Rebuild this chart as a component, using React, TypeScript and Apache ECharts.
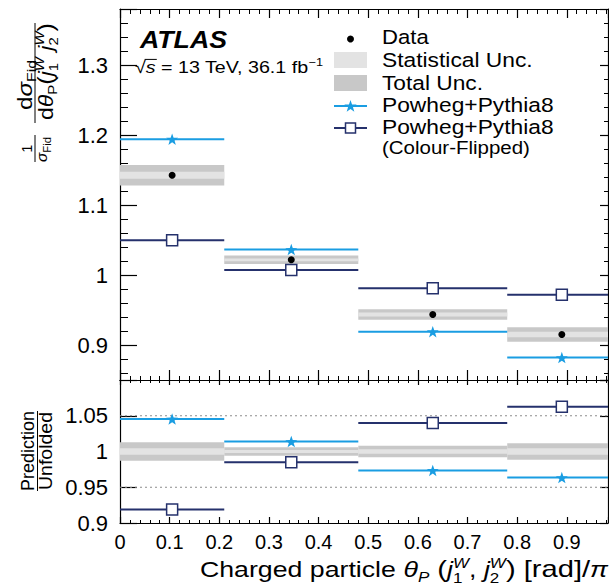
import React, { useEffect, useRef } from 'react';
import * as echarts from 'echarts';

// ---- data ----
const binEdges = [0, 0.21, 0.48, 0.78, 1.0];
const dataValues = [1.1426, 1.0217, 0.9436, 0.915];
const statUnc = [0.005, 0.002, 0.003, 0.004];
const totalUnc = [0.0147, 0.006, 0.0076, 0.0105];
const powhegValues = [1.194, 1.0364, 0.919, 0.882];
const flippedValues = [1.0497, 1.007, 0.981, 0.9717];
const ratioStat = [0.0044, 0.002, 0.003, 0.0044];
const ratioTotal = [0.013, 0.0058, 0.0082, 0.0115];
const ratioPowheg = [1.0454, 1.0139, 0.9736, 0.9635];
const ratioFlipped = [0.919, 0.985, 1.0398, 1.0625];
const ratioRefLines = [0.95, 1.05];

const X_MIN = 0;
const X_MAX = 0.983;
const TOP_Y = [0.85, 1.38];
const RATIO_Y = [0.9, 1.1];

const FONT = "'Liberation Sans', Arial, Helvetica, sans-serif";
const CYAN = '#1a9de2';
const NAVY = '#25316c';
const STAT_GRAY = '#e3e3e3';
const TOTAL_GRAY = '#c8c8c8';

const nBins = dataValues.length;
const centers = Array.from({ length: nBins }, (_, i) => (binEdges[i] + binEdges[i + 1]) / 2);

const bandData = (center: number[], half: number[]) =>
  center.map((c, i) => [binEdges[i], binEdges[i + 1], c - half[i], c + half[i]]);
const segData = (vals: number[]) => vals.map((v, i) => [binEdges[i], binEdges[i + 1], v]);

const STAR = 'path://M0,-10 L2.35,-3.24 L9.51,-3.09 L3.8,1.24 L5.88,8.09 L0,4 L-5.88,8.09 L-3.8,1.24 L-9.51,-3.09 L-2.35,-3.24 Z';

// ---- text layout helpers ----
type Tok = { t: string; s: number; it?: boolean; b?: boolean; r?: number; st?: boolean; over?: boolean };
let _ctx: CanvasRenderingContext2D | null = null;
function measure(t: string, size: number, italic?: boolean, bold?: boolean) {
  if (!_ctx) _ctx = document.createElement('canvas').getContext('2d');
  _ctx!.font = `${italic ? 'italic ' : ''}${bold ? 'bold ' : ''}${size}px ${FONT}`;
  return _ctx!.measureText(t).width;
}
function mathGroup(tokens: Tok[], x: number, baseline: number, anchor: 'left' | 'center' | 'right', targetWidth?: number) {
  let cur = 0;
  let prevX = 0;
  let prevEnd = 0;
  const placed: { tok: Tok; x: number; w: number }[] = [];
  for (const tok of tokens) {
    const w = measure(tok.t, tok.s, tok.it, tok.b);
    let tx: number;
    if (tok.st) {
      tx = prevX;
      cur = Math.max(prevEnd, tx + w);
    } else {
      tx = cur;
      cur = tx + w;
      prevX = tx;
      prevEnd = tx + w;
    }
    placed.push({ tok, x: tx, w });
  }
  const total = cur;
  const off = anchor === 'left' ? 0 : anchor === 'center' ? -total / 2 : -total;
  const scale = targetWidth ? targetWidth / total : 1;
  const children: any[] = [];
  for (const p of placed) {
    const r = p.tok.r || 0;
    children.push({
      type: 'text',
      x: p.x + off,
      y: -r - 0.35 * p.tok.s,
      style: {
        text: p.tok.t,
        fontSize: p.tok.s,
        fontStyle: p.tok.it ? 'italic' : 'normal',
        fontWeight: p.tok.b ? 'bold' : 'normal',
        fontFamily: FONT,
        fill: '#000',
        align: 'left',
        verticalAlign: 'middle',
      },
    });
    if (p.tok.over) {
      const yy = -r - 0.8 * p.tok.s;
      children.push({
        type: 'line',
        shape: { x1: p.x + off - 1, y1: yy, x2: p.x + off + p.w + 1, y2: yy },
        style: { stroke: '#000', lineWidth: 1 },
      });
    }
  }
  return { type: 'group', x, y: baseline, scaleX: scale, children };
}

function bandSeries(data: number[][], fill: string, gi: number, z: number) {
  return {
    type: 'custom',
    xAxisIndex: gi * 2,
    yAxisIndex: gi * 2,
    clip: true,
    z,
    silent: true,
    data,
    renderItem: (params: any, api: any) => {
      const p0 = api.coord([api.value(0), api.value(3)]);
      const p1 = api.coord([api.value(1), api.value(2)]);
      return {
        type: 'rect',
        shape: { x: p0[0], y: p0[1], width: p1[0] - p0[0], height: p1[1] - p0[1] },
        style: { fill },
      };
    },
  };
}

function segSeries(data: number[][], stroke: string, gi: number) {
  return {
    type: 'custom',
    xAxisIndex: gi * 2,
    yAxisIndex: gi * 2,
    clip: true,
    z: 5,
    silent: true,
    data,
    renderItem: (params: any, api: any) => {
      const p0 = api.coord([api.value(0), api.value(2)]);
      const p1 = api.coord([api.value(1), api.value(2)]);
      return {
        type: 'line',
        shape: { x1: p0[0], y1: p0[1], x2: p1[0], y2: p1[1] },
        style: { stroke, lineWidth: 2 },
      };
    },
  };
}

function xAxis(gi: number, position: string, showLabels: boolean, tickLen: number, minorLen: number) {
  return {
    type: 'value',
    gridIndex: gi,
    position,
    min: X_MIN,
    max: X_MAX,
    interval: 0.1,
    axisLine: { show: true, onZero: false, lineStyle: { color: '#000', width: 1.2 } },
    axisTick: { show: true, inside: true, length: tickLen, lineStyle: { color: '#000', width: 1.2 } },
    minorTick: { show: true, splitNumber: 5, length: minorLen, lineStyle: { color: '#000', width: 1 } },
    splitLine: { show: false },
    minorSplitLine: { show: false },
    axisLabel: {
      show: showLabels,
      showMaxLabel: false,
      fontSize: 20,
      color: '#000',
      fontFamily: FONT,
      margin: 9,
    },
  };
}

function yAxis(gi: number, position: string, showLabels: boolean, range: number[], interval: number | undefined, tickLen: number, minorLen: number, minor: boolean, showMin: boolean) {
  const a: any = {
    type: 'value',
    gridIndex: gi,
    position,
    min: range[0],
    max: range[1],
    axisLine: { show: true, onZero: false, lineStyle: { color: '#000', width: 1.2 } },
    axisTick: { show: true, inside: true, length: tickLen, lineStyle: { color: '#000', width: 1.2 } },
    minorTick: { show: minor, splitNumber: 5, length: minorLen, lineStyle: { color: '#000', width: 1 } },
    splitLine: { show: false },
    minorSplitLine: { show: false },
    axisLabel: {
      show: showLabels,
      showMinLabel: showMin,
      showMaxLabel: false,
      fontSize: 22,
      color: '#000',
      fontFamily: FONT,
      margin: 12,
    },
  };
  if (interval !== undefined) a.interval = interval;
  else a.splitNumber = 5;
  return a;
}

function star(cx: number, cy: number, R: number, r: number) {
  const pts: number[][] = [];
  for (let k = 0; k < 10; k++) {
    const ang = -Math.PI / 2 + (k * Math.PI) / 5;
    const rr = k % 2 === 0 ? R : r;
    pts.push([cx + rr * Math.cos(ang), cy + rr * Math.sin(ang)]);
  }
  return pts;
}

export default function App() {
  const ref = useRef<HTMLDivElement>(null);

  useEffect(() => {
    if (!ref.current) return;
    const chart = echarts.init(ref.current, undefined, { renderer: 'svg' });

    const legendX = 334;
    const textX = 382;
    const LS = 19.5;
    const legText = (baseline: number, text: string, width: number, size = LS) =>
      mathGroup([{ t: text, s: size }], textX, baseline, 'left', width);

    const option: any = {
      animation: false,
      backgroundColor: '#fff',
      grid: [
        { left: 120, right: 1, top: 9, height: 371 },
        { left: 120, right: 1, top: 380, height: 143 },
      ],
      xAxis: [
        xAxis(0, 'bottom', false, 10, 4),
        xAxis(0, 'top', false, 9, 5),
        xAxis(1, 'bottom', true, 6, 3),
        xAxis(1, 'top', false, 5, 3),
      ],
      yAxis: [
        yAxis(0, 'left', true, TOP_Y, undefined, 17, 8, true, false),
        yAxis(0, 'right', false, TOP_Y, undefined, 8, 4, true, false),
        yAxis(1, 'left', true, RATIO_Y, 0.05, 17, 8, false, true),
        yAxis(1, 'right', false, RATIO_Y, 0.05, 8, 4, false, true),
      ],
      series: [
        bandSeries(bandData(dataValues, totalUnc), TOTAL_GRAY, 0, 1),
        bandSeries(bandData(dataValues, statUnc), STAT_GRAY, 0, 2),
        segSeries(segData(powhegValues), CYAN, 0),
        segSeries(segData(flippedValues), NAVY, 0),
        {
          type: 'scatter', xAxisIndex: 0, yAxisIndex: 0, z: 10, silent: true,
          symbol: 'circle', symbolSize: 7, itemStyle: { color: '#000', opacity: 1 },
          data: centers.map((c, i) => [c, dataValues[i]]),
        },
        {
          type: 'scatter', xAxisIndex: 0, yAxisIndex: 0, z: 10, silent: true,
          symbol: STAR, symbolSize: [12, 11.5], itemStyle: { color: CYAN, opacity: 1 },
          data: centers.map((c, i) => [c, powhegValues[i]]),
        },
        {
          type: 'scatter', xAxisIndex: 0, yAxisIndex: 0, z: 10, silent: true,
          symbol: 'rect', symbolSize: 11, itemStyle: { color: '#fff', borderColor: NAVY, borderWidth: 1.5, opacity: 1 },
          data: centers.map((c, i) => [c, flippedValues[i]]),
        },
        // ratio panel
        bandSeries(bandData(dataValues.map(() => 1), ratioTotal), TOTAL_GRAY, 1, 1),
        bandSeries(bandData(dataValues.map(() => 1), ratioStat), STAT_GRAY, 1, 2),
        {
          type: 'custom', xAxisIndex: 2, yAxisIndex: 2, clip: true, z: 3, silent: true,
          data: ratioRefLines.map((v) => [v]),
          renderItem: (params: any, api: any) => {
            const cs = params.coordSys;
            const p = api.coord([0, api.value(0)]);
            return {
              type: 'line',
              shape: { x1: cs.x, y1: p[1], x2: cs.x + cs.width, y2: p[1] },
              style: { stroke: '#8c8c8c', lineWidth: 1, lineDash: [2, 3] },
            };
          },
        },
        segSeries(segData(ratioPowheg), CYAN, 1),
        segSeries(segData(ratioFlipped), NAVY, 1),
        {
          type: 'scatter', xAxisIndex: 2, yAxisIndex: 2, z: 10, silent: true,
          symbol: STAR, symbolSize: [12, 11.5], itemStyle: { color: CYAN, opacity: 1 },
          data: centers.map((c, i) => [c, ratioPowheg[i]]),
        },
        {
          type: 'scatter', xAxisIndex: 2, yAxisIndex: 2, z: 10, silent: true,
          symbol: 'rect', symbolSize: 11, itemStyle: { color: '#fff', borderColor: NAVY, borderWidth: 1.5, opacity: 1 },
          data: centers.map((c, i) => [c, ratioFlipped[i]]),
        },
      ],
      graphic: [
        // ATLAS label
        mathGroup([{ t: 'ATLAS', s: 23, it: true, b: true }], 140, 48, 'left', 87),
        mathGroup(
          [
            { t: '√', s: 17 },
            { t: 's', s: 17, it: true, over: true },
            { t: ' = 13 TeV, 36.1 fb', s: 17 },
            { t: '−1', s: 11, r: 7 },
          ],
          135, 73, 'left', 188,
        ),
        // legend
        { type: 'circle', shape: { cx: legendX + 16.5, cy: 39, r: 3.5 }, style: { fill: '#000' } },
        legText(44.3, 'Data', 46.7),
        { type: 'rect', shape: { x: legendX, y: 52, width: 33, height: 16 }, style: { fill: STAT_GRAY } },
        legText(66.5, 'Statistical Unc.', 150.7),
        { type: 'rect', shape: { x: legendX, y: 75, width: 33, height: 16 }, style: { fill: TOTAL_GRAY } },
        legText(89.5, 'Total Unc.', 101),
        { type: 'line', shape: { x1: legendX, y1: 106, x2: legendX + 33, y2: 106 }, style: { stroke: CYAN, lineWidth: 2 } },
        { type: 'polygon', shape: { points: star(legendX + 16.5, 106.5, 6.5, 2.6) }, style: { fill: CYAN } },
        legText(112, 'Powheg+Pythia8', 171.7),
        { type: 'line', shape: { x1: legendX, y1: 128, x2: legendX + 33, y2: 128 }, style: { stroke: NAVY, lineWidth: 2 } },
        { type: 'rect', shape: { x: legendX + 11.5, y: 123, width: 10, height: 10 }, style: { fill: '#fff', stroke: NAVY, lineWidth: 1.5 } },
        legText(133.5, 'Powheg+Pythia8', 171.7),
        legText(154, '(Colour-Flipped)', 148, 19),
        // x title
        mathGroup(
          [
            { t: 'Charged particle ', s: 22 },
            { t: 'θ', s: 22, it: true },
            { t: 'P', s: 14, it: true, r: -5 },
            { t: ' (', s: 24 },
            { t: 'j', s: 22, it: true },
            { t: 'W', s: 14, it: true, r: 9 },
            { t: '1', s: 14, r: -6, st: true },
            { t: ', ', s: 22 },
            { t: 'j', s: 22, it: true },
            { t: 'W', s: 14, it: true, r: 9 },
            { t: '2', s: 14, r: -6, st: true },
            { t: ') [rad]/', s: 24 },
            { t: 'π', s: 22, it: true },
          ],
          608, 577, 'right', 408,
        ),
        // top y title (rotated, reads bottom-to-top)
        {
          type: 'group', x: 35, y: 162, rotation: Math.PI / 2,
          children: [
            { type: 'line', shape: { x1: 0, y1: 0, x2: 27, y2: 0 }, style: { stroke: '#000', lineWidth: 1 } },
            mathGroup([{ t: '1', s: 14 }], 13.5, -3, 'center'),
            mathGroup([{ t: 'σ', s: 15, it: true }, { t: 'Fid', s: 11, r: -4 }], 12.5, 12, 'center', 25),
            { type: 'line', shape: { x1: 39, y1: 0, x2: 139, y2: 0 }, style: { stroke: '#000', lineWidth: 1 } },
            mathGroup([{ t: 'd', s: 20 }, { t: 'σ', s: 20, it: true }, { t: 'Fid', s: 13, r: -4 }], 77, -3, 'center', 50),
            mathGroup(
              [
                { t: 'd', s: 20 },
                { t: 'θ', s: 20, it: true },
                { t: 'P', s: 13, r: -4 },
                { t: '(', s: 22 },
                { t: 'j', s: 20, it: true },
                { t: 'W', s: 13, it: true, r: 9 },
                { t: '1', s: 13, r: -5, st: true },
                { t: ' ', s: 20 },
                { t: 'j', s: 20, it: true },
                { t: 'W', s: 13, it: true, r: 9 },
                { t: '2', s: 13, r: -5, st: true },
                { t: ')', s: 22 },
              ],
              90.5, 18, 'center', 97,
            ),
          ],
        },
        // ratio y title
        {
          type: 'group', x: 37.5, y: 491, rotation: Math.PI / 2,
          children: [
            { type: 'line', shape: { x1: 0, y1: 0, x2: 80, y2: 0 }, style: { stroke: '#000', lineWidth: 1 } },
            mathGroup([{ t: 'Prediction', s: 18 }], 40, -3, 'center', 80),
            mathGroup([{ t: 'Unfolded', s: 18 }], 40, 15, 'center', 78),
          ],
        },
      ],
    };

    chart.setOption(option);
    return () => chart.dispose();
  }, []);

  return <div ref={ref} style={{ position: 'fixed', left: 0, top: 0, width: 609, height: 586 }} />;
}
